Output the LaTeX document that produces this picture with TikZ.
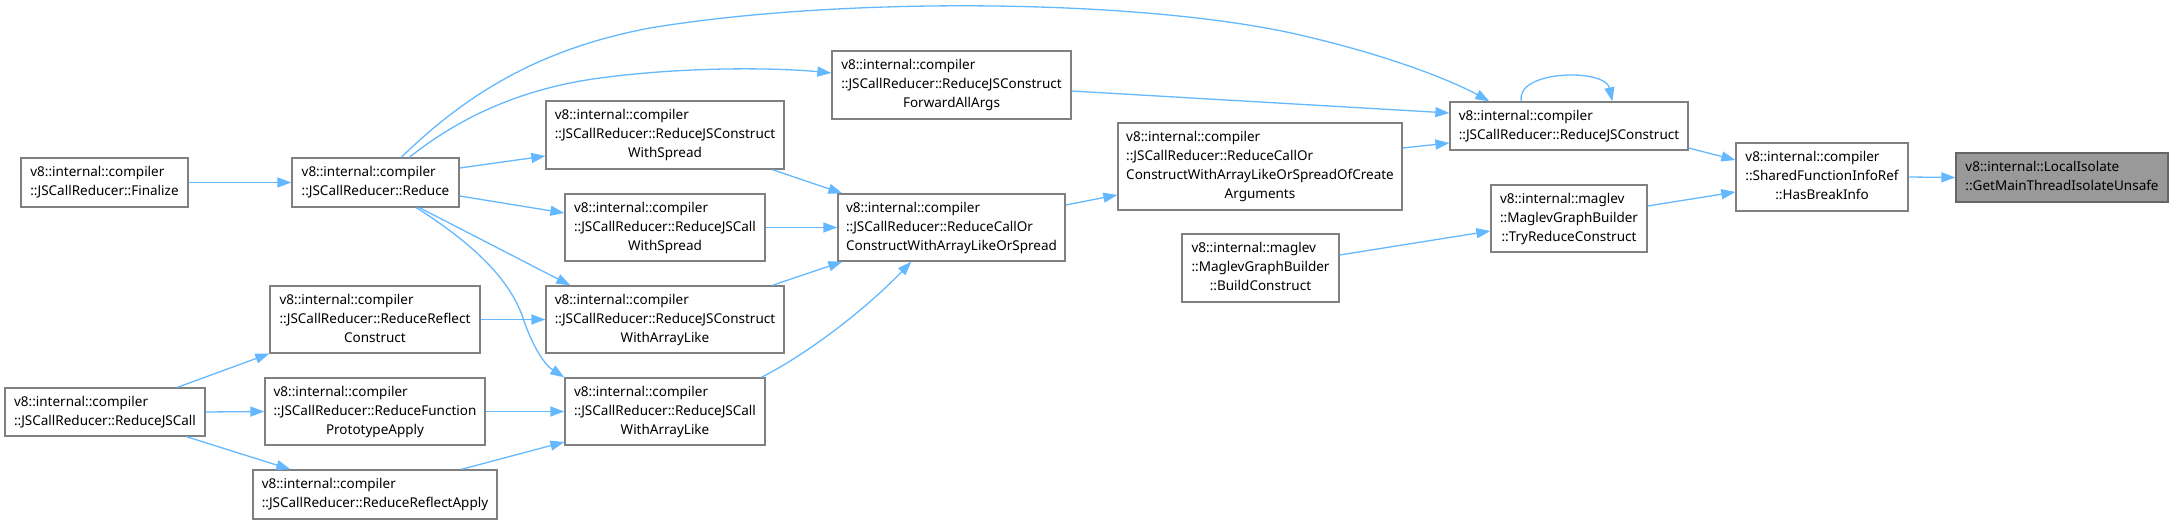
\documentclass[tikz,border=0pt]{standalone}
\usepackage{fontspec}
\setmainfont{Noto Sans}
\usetikzlibrary{arrows.meta,calc}
\definecolor{edgec}{HTML}{63B8FF}
\definecolor{boxc}{HTML}{808080}
\definecolor{hlborder}{HTML}{666666}
\definecolor{hlfill}{HTML}{999999}
\newcommand{\lc}[1]{\hfill#1\hfill\mbox{}}
\newcommand{\bx}[1]{\begin{tabular}{@{}l@{}}#1\end{tabular}}
\tikzset{
  nd/.style={draw=boxc, line width=1.3pt, fill=white, inner sep=0pt,
             font=\fontsize{13.5}{19}\selectfont},
  hlnd/.style={nd, draw=hlborder, fill=hlfill},
  sz/.style 2 args={minimum width=#1pt, minimum height=#2pt},
  ed/.style={draw=edgec, line width=1.3pt, -{Triangle[length=14pt,width=10pt]}}
}
\begin{document}
\begin{tikzpicture}[x=1pt,y=-1pt]
\useasboundingbox (0,0) rectangle (2173,524);

% nodes
\node[nd, sz={167}{49}] (fin) at (104.5,182.5) {\bx{v8::internal::compiler\\::JSCallReducer::Finalize}};
\node[nd, sz={167}{49}] (red) at (375.5,182.5) {\bx{v8::internal::compiler\\::JSCallReducer::Reduce}};
\node[nd, sz={238}{68}] (cws) at (665,135) {\bx{v8::internal::compiler\\::JSCallReducer::ReduceJSConstruct\\\lc{WithSpread}}};
\node[nd, sz={200}{67}] (callws) at (665,227.5) {\bx{v8::internal::compiler\\::JSCallReducer::ReduceJSCall\\\lc{WithSpread}}};
\node[nd, sz={238}{67}] (cwal) at (665,319.5) {\bx{v8::internal::compiler\\::JSCallReducer::ReduceJSConstruct\\\lc{WithArrayLike}}};
\node[nd, sz={200}{67}] (callwal) at (665,411.5) {\bx{v8::internal::compiler\\::JSCallReducer::ReduceJSCall\\\lc{WithArrayLike}}};
\node[nd, sz={210}{67}] (rrc) at (375,319.5) {\bx{v8::internal::compiler\\::JSCallReducer::ReduceReflect\\\lc{Construct}}};
\node[nd, sz={220}{67}] (rfpa) at (375,411.5) {\bx{v8::internal::compiler\\::JSCallReducer::ReduceFunction\\\lc{PrototypeApply}}};
\node[nd, sz={244}{49}] (rra) at (375,494.5) {\bx{v8::internal::compiler\\::JSCallReducer::ReduceReflectApply}};
\node[nd, sz={200}{48}] (rjc) at (105,412) {\bx{v8::internal::compiler\\::JSCallReducer::ReduceJSCall}};
\node[nd, sz={239}{68}] (fwd) at (951.5,85) {\bx{v8::internal::compiler\\::JSCallReducer::ReduceJSConstruct\\\lc{ForwardAllArgs}}};
\node[nd, sz={227}{67}] (cocw) at (951.5,227.5) {\bx{v8::internal::compiler\\::JSCallReducer::ReduceCallOr\\ConstructWithArrayLikeOrSpread}};
\node[nd, sz={284}{87}] (coca) at (1260,166.5) {\bx{v8::internal::compiler\\::JSCallReducer::ReduceCallOr\\ConstructWithArrayLikeOrSpreadOfCreate\\\lc{Arguments}}};
\node[nd, sz={157}{68}] (bc) at (1260.5,268) {\bx{v8::internal::maglev\\::MaglevGraphBuilder\\\lc{::BuildConstruct}}};
\node[nd, sz={238}{48}] (rjcons) at (1569,126) {\bx{v8::internal::compiler\\::JSCallReducer::ReduceJSConstruct}};
\node[nd, sz={156}{67}] (trc) at (1569,218.5) {\bx{v8::internal::maglev\\::MaglevGraphBuilder\\\lc{::TryReduceConstruct}}};
\node[nd, sz={172}{68}] (hbi) at (1822,177) {\bx{v8::internal::compiler\\::SharedFunctionInfoRef\\\lc{::HasBreakInfo}}};
\node[hlnd, sz={212}{49}] (gmt) at (2062,177.5) {\bx{v8::internal::LocalIsolate\\::GetMainThreadIsolateUnsafe}};

% edges
\draw[ed] (fin.east) -- (red.west);
\draw[ed] ($(red.east)+(0,-14.5)$) -- ($(cws.west)+(0,21)$);
\draw[ed] ($(red.east)+(0,13.5)$) -- ($(callws.west)+(0,-14.5)$);
\draw[ed] ($(red.south west)+(128,0)$) -- ($(cwal.north west)+(25,0)$);
\coordinate (r5a) at ($(red.south west)+(125,0)$);
\draw[ed] (r5a) .. controls (475,245) and (510,280) .. (523,318)
  .. controls (533,348) and (545,365) .. (callwal.north west);
\coordinate (r6a) at ($(red.north west)+(118,0)$);
\coordinate (r6b) at ($(fwd.west)+(0,-12)$);
\draw[ed] (r6a) .. controls (450,125) and (510,90) .. (600,78)
  .. controls (690,66) and (780,68) .. (r6b);
\coordinate (r7a) at ($(red.north west)+(110,0)$);
\coordinate (r7b) at ($(rjcons.north west)+(40,0)$);
\draw[ed] (r7a) .. controls (480,80) and (560,45) .. (650,28)
  .. controls (850,-5) and (1150,0) .. (1300,35)
  .. controls (1400,58) and (1460,85) .. (r7b);
\draw[ed] ($(fwd.east)+(0,6)$) -- ($(rjcons.west)+(0,-13)$);
\draw[ed] ($(coca.east)+(0,-18.5)$) -- ($(rjcons.west)+(0,17)$);
\draw[ed] ($(cocw.east)+(0,-22.5)$) -- ($(coca.west)+(0,28.5)$);
\draw[ed] ($(bc.east)+(0,-13)$) -- ($(trc.west)+(0,12.5)$);
\draw[ed] ($(rjcons.east)+(0,22)$) -- ($(hbi.west)+(0,-17)$);
\draw[ed] ($(trc.east)+(0,-12.5)$) -- ($(hbi.west)+(0,15)$);
\draw[ed] (hbi.east) -- (gmt.west);
\coordinate (sla) at ($(rjcons.north west)+(72,0)$);
\coordinate (slb) at ($(rjcons.north west)+(163,0)$);
\draw[ed] (sla) .. controls (1515,70) and (1605,68) .. (slb);
\draw[ed] ($(rjc.north west)+(173,0)$) -- (rrc.south west);
\draw[ed] (rjc.east) -- (rfpa.west);
\draw[ed] ($(rjc.south west)+(182,0)$) -- ($(rra.north west)+(38,0)$);
\draw[ed] (rrc.east) -- (cwal.west);
\draw[ed] (rfpa.east) -- (callwal.west);
\draw[ed] ($(rra.north west)+(209,0)$) -- ($(callwal.west)+(0,30.5)$);
\draw[ed] ($(cws.south west)+(227,0)$) -- ($(cocw.north west)+(5,0)$);
\draw[ed] (callws.east) -- (cocw.west);
\draw[ed] ($(cwal.north west)+(227,0)$) -- ($(cocw.south west)+(5,0)$);
\coordinate (c25a) at ($(callwal.north west)+(197,0)$);
\coordinate (c25b) at ($(cocw.south west)+(74,0)$);
\draw[ed] (c25a) .. controls (800,358) and (860,315) .. (c25b);
\end{tikzpicture}
\end{document}
